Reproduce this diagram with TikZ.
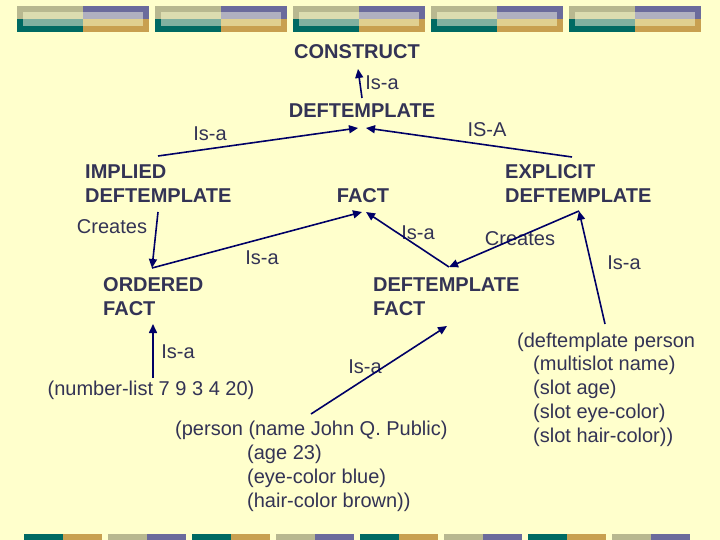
\documentclass[tikz,border=0pt]{standalone}
\usepackage{fontspec}
\setmainfont{Liberation Sans}
\usetikzlibrary{arrows.meta}
\definecolor{bg}{HTML}{FFFFCC}
\definecolor{txt}{HTML}{333355}
\definecolor{arr}{HTML}{000066}
\definecolor{khaki}{HTML}{B8B890}
\definecolor{lkhaki}{HTML}{DCDCB0}
\definecolor{purp}{HTML}{6B6B9C}
\definecolor{lpurp}{HTML}{B0B0C0}
\definecolor{teal}{HTML}{006A63}
\definecolor{lteal}{HTML}{80B0A0}
\definecolor{gold}{HTML}{C8A050}
\definecolor{lgold}{HTML}{E0D090}
\tikzset{
  x=1pt,y=-1pt,
  lbl/.style={text=txt,font=\fontsize{20}{24}\selectfont,inner sep=0pt},
  hd/.style={lbl,font=\fontsize{20}{24}\selectfont\bfseries,align=left},
  con/.style={draw=arr,line width=1.6pt,-{Triangle[length=9pt,width=8pt]}},
  seg/.style={draw=arr,line width=1.6pt}
}
\begin{document}
\begin{tikzpicture}
\fill[bg] (0,0) rectangle (720,540);
\useasboundingbox (0,0) rectangle (720,540);
\foreach \g in {17,155,293,431,569}{
  \fill[khaki] (\g,6) rectangle ++(66,13);
  \fill[purp] (\g+66,6) rectangle ++(66,13);
  \fill[teal] (\g,19) rectangle ++(66,13);
  \fill[gold] (\g+66,19) rectangle ++(66,13);
  \fill[lkhaki] (\g+6,12) rectangle ++(60,7);
  \fill[lpurp] (\g+66,12) rectangle ++(60,7);
  \fill[lteal] (\g+6,19) rectangle ++(60,7);
  \fill[lgold] (\g+66,19) rectangle ++(60,7);
}
\foreach \g/\a/\b in {24/teal/gold,108/khaki/purp,192/teal/gold,276/khaki/purp,360/teal/gold,444/khaki/purp,528/teal/gold,612/khaki/purp}{
  \fill[\a] (\g,534) rectangle ++(39,6);
  \fill[\b] (\g+39,534) rectangle ++(39,6);
}
\node[hd] (construct) at (357,52) {CONSTRUCT};
\node[hd] (deft) at (362,111) {DEFTEMPLATE};
\node[hd,anchor=west] (implied) at (85,184) {IMPLIED\\DEFTEMPLATE};
\node[hd] (fact) at (363,196) {FACT};
\node[hd,anchor=west] (explicit) at (505,184) {EXPLICIT\\DEFTEMPLATE};
\node[hd,anchor=west] (ordered) at (103,297) {ORDERED\\FACT};
\node[hd,anchor=west] (dfact) at (373,297) {DEFTEMPLATE\\FACT};
\node[lbl] (numlist) at (151,390) {(number-list 7 9 3 4 20)};
\node[lbl,anchor=west] (person1) at (175,430) {(person (name John Q. Public)};
\node[lbl,anchor=west,align=left] (person2) at (247,478) {(age 23)\\(eye-color blue)\\(hair-color brown))};
\node[lbl,anchor=west] (dt1) at (517,342) {(deftemplate person};
\node[lbl,anchor=west,align=left] (dt2) at (533,401) {(multislot name)\\(slot age)\\(slot eye-color)\\(slot hair-color))};

\node[lbl] (l1) at (382,83) {Is-a};
\node[lbl] (l2) at (210,134) {Is-a};
\node[lbl] (l3) at (487,130) {IS-A};
\node[lbl] (l4) at (112,227) {Creates};
\node[lbl] (l5) at (418,233) {Is-a};
\node[lbl] (l6) at (520,239) {Creates};
\node[lbl] (l7) at (262,258) {Is-a};
\node[lbl] (l8) at (624,263) {Is-a};
\node[lbl] (l9) at (178,352) {Is-a};
\node[lbl] (l10) at (365,367) {Is-a};

\coordinate (c1) at (362,98); \coordinate (c2) at (358,69);
\coordinate (c3) at (158,156); \coordinate (c4) at (358,128);
\coordinate (c5) at (572,157); \coordinate (c6) at (366,128);
\coordinate (c7) at (158,212); \coordinate (c8) at (152,268);
\coordinate (c9) at (362,212);
\coordinate (c10) at (449,267); \coordinate (c11) at (366,212);
\coordinate (c12) at (579,211);
\coordinate (c13) at (605,324);
\coordinate (c14) at (153,378); \coordinate (c15) at (153,324);
\coordinate (c16) at (311,414); \coordinate (c17) at (447,326);
\draw[con] (c1) -- (c2);
\draw[con] (c3) -- (c4);
\draw[con] (c5) -- (c6);
\draw[con] (c7) -- (c8);
\draw[con] (c8) -- (c9);
\draw[con] (c10) -- (c11);
\draw[con] (c12) -- (c10);
\draw[con] (c13) -- (c12);
\draw[con] (c14) -- (c15);
\draw[con] (c16) -- (c17);
\end{tikzpicture}
\end{document}
